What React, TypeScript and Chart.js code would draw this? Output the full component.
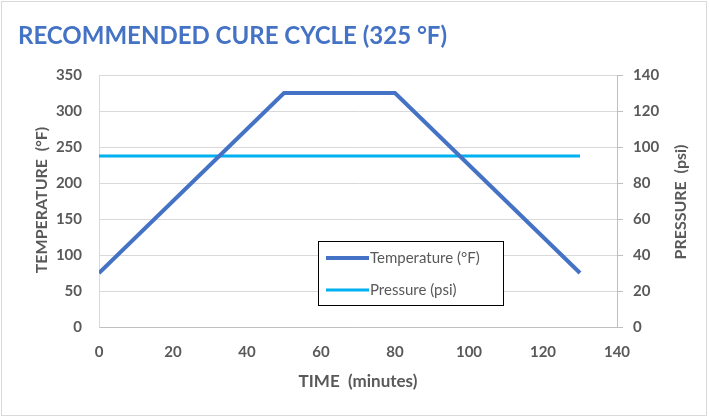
import React, { useEffect, useRef } from "react";
import { Chart, registerables } from "chart.js";

Chart.register(...registerables);

const TITLE = "RECOMMENDED CURE CYCLE (325 °F)";
const X_TITLE = "TIME  (minutes)";
const Y_TITLE = "TEMPERATURE  (°F)";
const Y2_TITLE = "PRESSURE  (psi)";

const tempTime = [0, 50, 80, 130];
const tempValues = [75, 325, 325, 75];
const pressureTime = [0, 130];
const pressureValues = [95, 95];

const TEMP_LABEL = "Temperature (°F)";
const PRESS_LABEL = "Pressure (psi)";

const FONT = "Lato";
const GRAY = "#595959";

const decor = {
  id: "decor",
  afterDraw(chart: any) {
    const ctx = chart.ctx;
    const area = chart.chartArea;
    ctx.save();
    // outer border
    ctx.strokeStyle = "#d9d9d9";
    ctx.lineWidth = 1;
    ctx.strokeRect(1.5, 1.5, 705, 414);
    // title
    ctx.fillStyle = "#4472C4";
    ctx.font = `bold 24px ${FONT}`;
    ctx.textAlign = "left";
    ctx.textBaseline = "middle";
    ctx.fillText(TITLE, 18, 36);
    // axis titles
    ctx.fillStyle = GRAY;
    ctx.font = `bold 17px ${FONT}`;
    ctx.textAlign = "center";
    ctx.fillText(X_TITLE, (area.left + area.right) / 2, 382);
    ctx.font = `bold 16px ${FONT}`;
    ctx.save();
    ctx.translate(42, 200);
    ctx.rotate(-Math.PI / 2);
    ctx.fillText(Y_TITLE, 0, 0);
    ctx.restore();
    ctx.save();
    ctx.translate(681, 202);
    ctx.rotate(-Math.PI / 2);
    ctx.fillText(Y2_TITLE, 0, 0);
    ctx.restore();
    // legend
    const bx = 318.5, by = 241.5, bw = 185, bh = 64;
    ctx.fillStyle = "#ffffff";
    ctx.fillRect(bx, by, bw, bh);
    ctx.strokeStyle = "#000000";
    ctx.lineWidth = 1;
    ctx.strokeRect(bx, by, bw, bh);
    const ds = chart.data.datasets;
    const rows = [258, 290];
    ds.forEach((d: any, i: number) => {
      ctx.strokeStyle = d.borderColor;
      ctx.lineWidth = d.borderWidth;
      ctx.beginPath();
      ctx.moveTo(326, rows[i]);
      ctx.lineTo(369, rows[i]);
      ctx.stroke();
      ctx.fillStyle = GRAY;
      ctx.font = `15px ${FONT}`;
      ctx.textAlign = "left";
      ctx.textBaseline = "middle";
      ctx.fillText(d.label, 370, rows[i]);
    });
    ctx.restore();
  },
};

export default function App() {
  const ref = useRef<HTMLCanvasElement>(null);
  useEffect(() => {
    const tickFont = { family: FONT, size: 15, weight: "bold" as const };
    const chart = new Chart(ref.current!, {
      type: "line",
      data: {
        datasets: [
          {
            label: TEMP_LABEL,
            data: tempTime.map((t, i) => ({ x: t, y: tempValues[i] })),
            borderColor: "#4472C4",
            borderWidth: 4,
            pointRadius: 0,
            yAxisID: "y",
          },
          {
            label: PRESS_LABEL,
            data: pressureTime.map((t, i) => ({ x: t, y: pressureValues[i] })),
            borderColor: "#00B0F0",
            borderWidth: 3,
            pointRadius: 0,
            yAxisID: "y1",
          },
        ],
      },
      options: {
        responsive: false,
        animation: false,
        devicePixelRatio: 1,
        layout: { padding: { top: 75, left: 0, right: 0, bottom: 0 } },
        plugins: { legend: { display: false }, title: { display: false }, tooltip: { enabled: false } },
        scales: {
          x: {
            type: "linear",
            min: 0,
            max: 140,
            ticks: { stepSize: 20, color: GRAY, font: tickFont, padding: 16, maxRotation: 0 },
            grid: { display: false, drawTicks: false },
            border: { display: true, color: "#bfbfbf" },
            afterFit: (s: any) => { s.height = 91; },
          },
          y: {
            position: "left",
            min: 0,
            max: 350,
            ticks: { stepSize: 50, color: GRAY, font: tickFont, padding: 17 },
            grid: { color: "#d9d9d9", drawTicks: false },
            border: { color: "#d9d9d9" },
            afterFit: (s: any) => { s.width = 99; },
          },
          y1: {
            position: "right",
            min: 0,
            max: 140,
            ticks: { stepSize: 20, color: GRAY, font: tickFont, padding: 10 },
            grid: { drawOnChartArea: false, color: "#bfbfbf", tickLength: 6 },
            border: { color: "#bfbfbf" },
            afterFit: (s: any) => { s.width = 92; },
          },
        },
      },
      plugins: [decor],
    });
    return () => chart.destroy();
  }, []);
  return (
    <div style={{ position: "fixed", left: 0, top: 0, width: 709, height: 418, background: "#fff" }}>
      <canvas ref={ref} width={709} height={418} style={{ width: 709, height: 418, display: "block" }} />
    </div>
  );
}
